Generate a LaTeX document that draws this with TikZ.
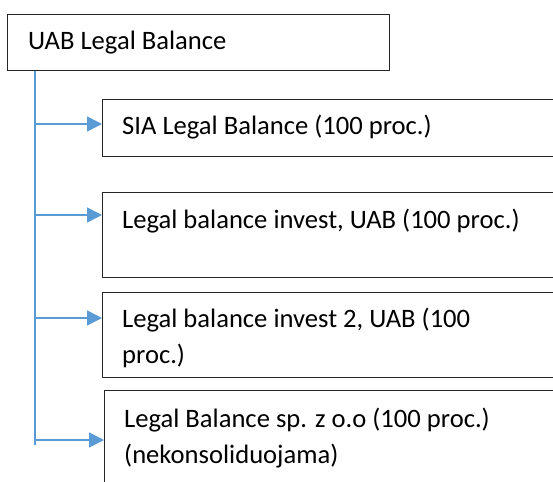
\documentclass[tikz,border=0pt]{standalone}
\usepackage{fontspec}
\setmainfont{Carlito}
\usetikzlibrary{arrows.meta}
\definecolor{linkblue}{RGB}{91,155,213}
\begin{document}
\begin{tikzpicture}[x=1pt,y=-1pt,
  boxshape/.style={draw=black!85,line width=1.1pt,rectangle,inner sep=0pt,anchor=north west},
  label/.style={anchor=base west,inner sep=0pt,font=\fontsize{26.6}{36}\selectfont,align=left},
  link/.style={draw=linkblue,line width=1.5pt},
  linkarrow/.style={link,-{Triangle[length=15pt,width=15pt]}}]
\useasboundingbox (0,0) rectangle (553,481);
\clip (0,0) rectangle (553,481);
% boxes
\node[boxshape,minimum width=382pt,minimum height=56pt] (b0) at (7,14) {};
\node[boxshape,minimum width=470pt,minimum height=57pt] (b1) at (102,99) {};
\node[boxshape,minimum width=470pt,minimum height=85pt] (b2) at (102,192) {};
\node[boxshape,minimum width=470pt,minimum height=85pt] (b3) at (102,292) {};
\node[boxshape,minimum width=470pt,minimum height=110pt] (b4) at (104,390) {};
% texts (multi-line texts are anchored at the baseline of their last line)
\node[label] (t0) at (28,50) {UAB Legal Balance};
\node[label] (t1) at (122,135) {SIA Legal Balance (100 proc.)};
\node[label] (t2) at (122,228) {Legal balance invest, UAB (100 proc.)};
\node[label] (t3) at (122,363) {Legal balance invest 2, UAB (100\\proc.)};
\node[label] (t4) at (124,463) {Legal Balance sp. z o.o (100 proc.)\\(nekonsoliduojama)};
% spine
\coordinate (sp) at (35,445);
\coordinate (s1) at (35,124);
\coordinate (s2) at (35,215);
\coordinate (s3) at (34,318);
\coordinate (s4) at (34,440);
\draw[link] (b0.south -| sp) -- (sp);
\draw[linkarrow] (s1) -- (s1 -| b1.west);
\draw[linkarrow] (s2) -- (s2 -| b2.west);
\draw[linkarrow] (s3) -- (s3 -| b3.west);
\draw[linkarrow] (s4) -- (s4 -| b4.west);
\end{tikzpicture}
\end{document}
